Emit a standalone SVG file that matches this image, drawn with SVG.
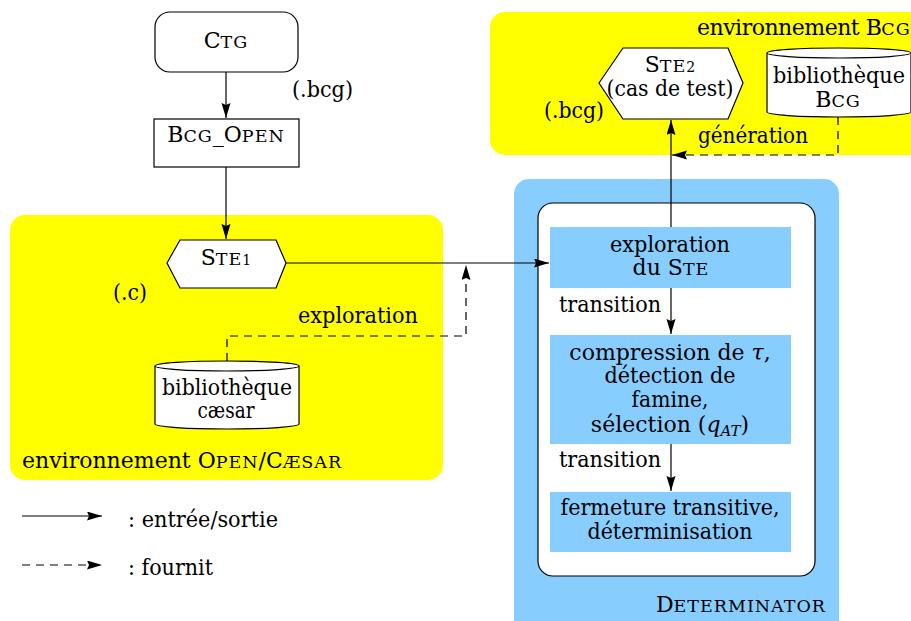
<svg xmlns="http://www.w3.org/2000/svg" width="911" height="621" viewBox="0 0 911 621">
  <style>
    text { font-family: "DejaVu Serif", "Liberation Serif", serif; font-size: 22px; fill: #000; }
    .mid { text-anchor: middle; }
    .sc { font-size: 17.5px; letter-spacing: 1px; }
    .node { fill: #fff; stroke: #000; stroke-width: 1.2; }
    .blk { fill: #87CEFF; }
    .wire { fill: none; stroke: #000; stroke-width: 1.2; }
    .dash { stroke-dasharray: 8 6; }
  </style>
  <defs>
    <marker id="ah" markerUnits="userSpaceOnUse" markerWidth="16" markerHeight="10" refX="15" refY="4.5" orient="auto">
      <path d="M0,0 L15,4.5 L0,9 L2,4.5 z" fill="#000"/>
    </marker>
  </defs>

  <!-- environments -->
  <g id="env-opencaesar">
    <rect x="10" y="215" width="433" height="265" rx="15" fill="#FFFF00"/>
    <text x="22" y="468">environnement O<tspan class="sc">PEN</tspan>/C<tspan class="sc">ÆSAR</tspan></text>
  </g>
  <g id="env-bcg">
    <rect x="490" y="12" width="440" height="143" rx="15" fill="#FFFF00"/>
    <text x="697" y="35" font-size="21" letter-spacing="-0.5">environnement B<tspan class="sc" font-size="16" letter-spacing="0">CG</tspan></text>
  </g>
  <g id="determinator">
    <rect x="514" y="179" width="325" height="460" rx="15" fill="#87CEFF"/>
    <rect x="538" y="203" width="277" height="373" rx="15" fill="#fff" stroke="#000" stroke-width="1.2"/>
    <text x="826" y="612" text-anchor="end">D<tspan class="sc">ETERMINATOR</tspan></text>
  </g>

  <!-- nodes -->
  <g id="ctg">
    <rect class="node" x="155" y="12" width="143" height="60" rx="15"/>
    <text class="mid" x="226" y="48" font-size="23">C<tspan class="sc" font-size="18.5" letter-spacing="2">TG</tspan></text>
  </g>
  <g id="bcg-open">
    <rect class="node" x="154" y="119" width="145" height="48"/>
    <text class="mid" x="226" y="142">B<tspan class="sc">CG</tspan>_O<tspan class="sc">PEN</tspan></text>
  </g>
  <g id="ste1">
    <polygon class="node" points="167,263 180,240 276,240 286,263 276,288 180,288"/>
    <text class="mid" x="226" y="265">S<tspan class="sc">TE</tspan><tspan font-size="14">1</tspan></text>
  </g>
  <g id="lib-caesar">
    <path class="node" d="M155,366 L155,424 A72,5 0 0 0 299,424 L299,366"/>
    <ellipse class="node" cx="227" cy="366" rx="72" ry="5"/>
    <text class="mid" x="227" y="395" textLength="130" lengthAdjust="spacingAndGlyphs">bibliothèque</text>
    <text class="mid" x="226" y="418" textLength="57" lengthAdjust="spacingAndGlyphs">cæsar</text>
  </g>
  <g id="ste2">
    <polygon class="node" points="599,83 623,48 728,48 743,83 728,119 623,119"/>
    <text class="mid" x="670" y="72">S<tspan class="sc">TE</tspan><tspan font-size="14">2</tspan></text>
    <text class="mid" x="670" y="96" textLength="127" lengthAdjust="spacingAndGlyphs">(cas de test)</text>
  </g>
  <g id="lib-bcg">
    <path class="node" d="M767,53 L767,112 A72,5 0 0 0 911,112 L911,53"/>
    <ellipse class="node" cx="839" cy="53" rx="72" ry="5"/>
    <text class="mid" x="839" y="83" textLength="132" lengthAdjust="spacingAndGlyphs">bibliothèque</text>
    <text class="mid" x="838" y="107">B<tspan class="sc">CG</tspan></text>
  </g>
  <g id="exploration-ste">
    <rect class="blk" x="550" y="227" width="241" height="61"/>
    <text class="mid" x="670" y="252" textLength="120" lengthAdjust="spacingAndGlyphs">exploration</text>
    <text class="mid" x="671" y="275">du S<tspan class="sc">TE</tspan></text>
  </g>
  <g id="compression">
    <rect class="blk" x="550" y="335" width="241" height="109"/>
    <text class="mid" x="670" y="360" font-size="21">compression de <tspan font-style="italic">τ</tspan>,</text>
    <text class="mid" x="670" y="383" textLength="131" lengthAdjust="spacingAndGlyphs">détection de</text>
    <text class="mid" x="670" y="407" textLength="77" lengthAdjust="spacingAndGlyphs">famine,</text>
    <text class="mid" x="670" y="432">sélection (<tspan font-style="italic">q</tspan><tspan font-style="italic" font-size="15" dy="4">AT</tspan><tspan dy="-4">)</tspan></text>
  </g>
  <g id="fermeture">
    <rect class="blk" x="550" y="492" width="241" height="60"/>
    <text class="mid" x="670" y="515" textLength="219" lengthAdjust="spacingAndGlyphs">fermeture transitive,</text>
    <text class="mid" x="670" y="539" textLength="165" lengthAdjust="spacingAndGlyphs">déterminisation</text>
  </g>

  <!-- connectors -->
  <g id="connectors">
    <line class="wire" x1="226" y1="72" x2="226" y2="118" marker-end="url(#ah)"/>
    <line class="wire" x1="226" y1="167" x2="226" y2="239" marker-end="url(#ah)"/>
    <line class="wire" x1="286" y1="263" x2="549" y2="263" marker-end="url(#ah)"/>
    <polyline class="wire dash" points="227,361 227,336 466,336 466,265" marker-end="url(#ah)"/>
    <line class="wire" x1="671" y1="227" x2="671" y2="120" marker-end="url(#ah)"/>
    <polyline class="wire dash" points="838,117 838,155 672,155" marker-end="url(#ah)"/>
    <line class="wire" x1="671" y1="288" x2="671" y2="334" marker-end="url(#ah)"/>
    <line class="wire" x1="671" y1="444" x2="671" y2="491" marker-end="url(#ah)"/>
    <text x="292" y="97" textLength="61" lengthAdjust="spacingAndGlyphs">(.bcg)</text>
    <text x="113" y="300" textLength="34" lengthAdjust="spacingAndGlyphs">(.c)</text>
    <text x="298" y="323" textLength="120" lengthAdjust="spacingAndGlyphs">exploration</text>
    <text x="544" y="118" textLength="60" lengthAdjust="spacingAndGlyphs">(.bcg)</text>
    <text x="698" y="143" textLength="110" lengthAdjust="spacingAndGlyphs">génération</text>
    <text x="559" y="312" textLength="102" lengthAdjust="spacingAndGlyphs">transition</text>
    <text x="559" y="467" textLength="102" lengthAdjust="spacingAndGlyphs">transition</text>
  </g>

  <!-- legend -->
  <g id="legend">
    <line class="wire" x1="22" y1="516" x2="102" y2="516" marker-end="url(#ah)"/>
    <text x="128" y="527" textLength="150" lengthAdjust="spacingAndGlyphs">: entrée/sortie</text>
    <line class="wire dash" x1="22" y1="565" x2="102" y2="565" marker-end="url(#ah)"/>
    <text x="128" y="575" textLength="85" lengthAdjust="spacingAndGlyphs">: fournit</text>
  </g>
</svg>
